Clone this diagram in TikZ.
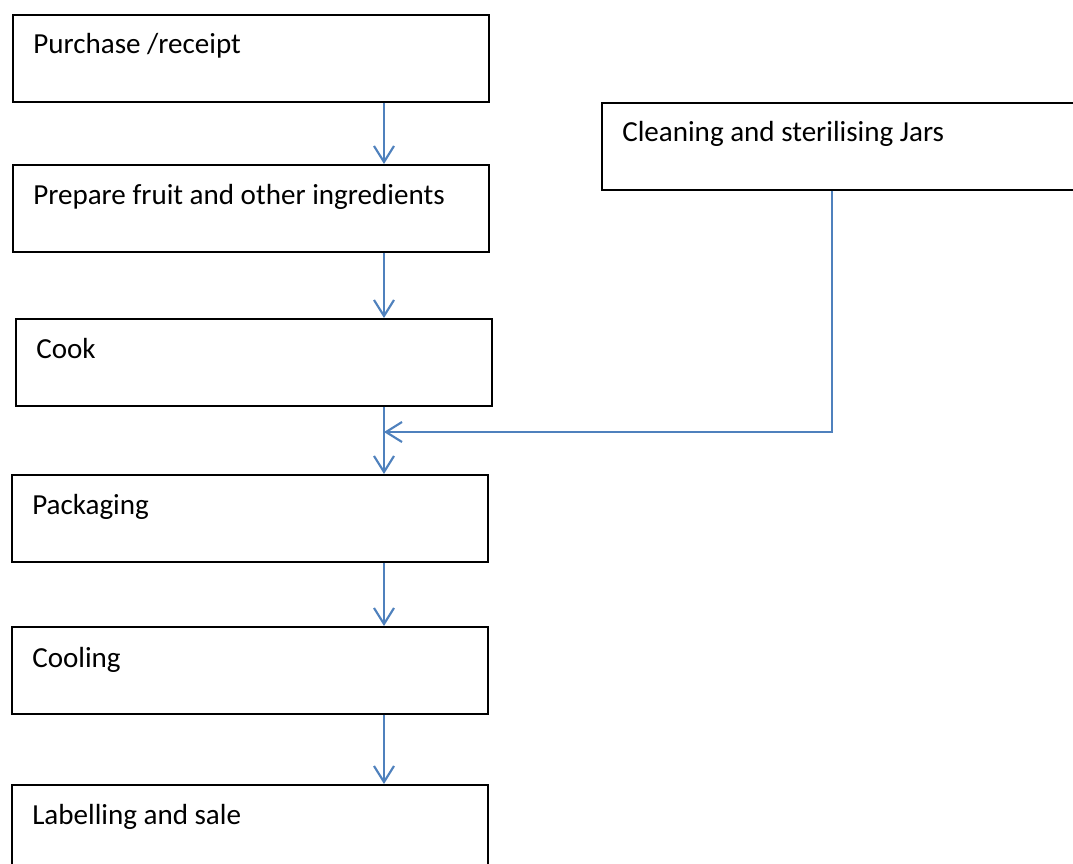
\documentclass[tikz,border=0pt]{standalone}
\usepackage{fontspec}
\setmainfont{Carlito}
\usetikzlibrary{arrows.meta}
\definecolor{flowblue}{HTML}{4F81BD}
\begin{document}
\begin{tikzpicture}[x=0.75pt,y=-0.75pt,
  box/.style={draw=black,line width=1.5pt,rectangle,inner sep=0pt,anchor=north west,minimum width=357pt,minimum height=65pt},
  lbl/.style={anchor=base west,inner sep=0pt,font=\fontsize{21.8pt}{26pt}\selectfont},
  arr/.style={draw=flowblue,line width=1.6pt,-{Straight Barb[length=12pt,width=15pt,line width=1.6pt]}},
  conn/.style={draw=flowblue,line width=1.6pt}]
\useasboundingbox (0,0) rectangle (1073,863);
\clip (0,0) rectangle (1073,863);
\fill[white] (0,0) rectangle (1073,863);
\node[box] (b1) at (12,14) {};
\node[box] (b2) at (12,164) {};
\node[box] (b3) at (15,318) {};
\node[box] (b4) at (11,474) {};
\node[box] (b5) at (11,626) {};
\node[box] (b6) at (11,784) {};
\node[box] (b7) at (601,102) {};
\node[lbl] (t1) at (33,54) {Purchase /receipt};
\node[lbl] (t2) at (33,204) {Prepare fruit and other ingredients};
\node[lbl] (t3) at (36,358) {Cook};
\node[lbl] (t4) at (32,514) {Packaging};
\node[lbl] (t5) at (32,667) {Cooling};
\node[lbl] (t6) at (32,824) {Labelling and sale};
\node[lbl] (t7) at (622,142) {Cleaning and sterilising Jars};
\coordinate (colx) at (384,0);
\coordinate (cx) at (832,0);
\coordinate (join) at (384,432);
\draw[arr] (b1.south -| colx) -- (b2.north -| colx);
\draw[arr] (b2.south -| colx) -- (b3.north -| colx);
\draw[arr] (b3.south -| colx) -- (b4.north -| colx);
\draw[arr] (b4.south -| colx) -- (b5.north -| colx);
\draw[arr] (b5.south -| colx) -- (b6.north -| colx);
\draw[arr] (b7.south -| cx) |- (join);
\end{tikzpicture}
\end{document}
